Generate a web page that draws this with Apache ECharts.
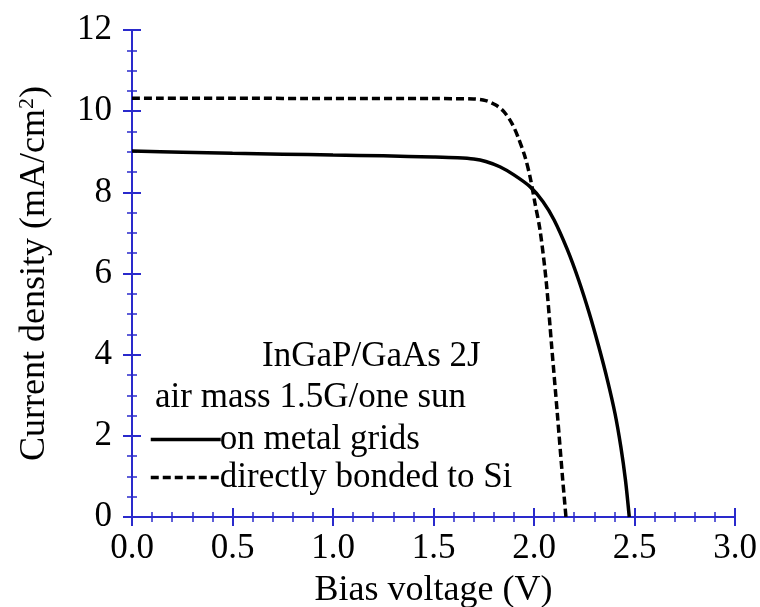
<!DOCTYPE html>
<html>
<head>
<meta charset="utf-8">
<script src="https://cdn.jsdelivr.net/npm/echarts@6/dist/echarts.min.js"></script>
<style>
  html, body { margin: 0; padding: 0; background: #fff; }
  #main { width: 760px; height: 607px; }
</style>
</head>
<body>
<div id="main"></div>
<script>
// 数据：偏压 (V) 与电流密度 (mA/cm2)
var metalV = [0, 0.25, 0.5, 0.75, 1.0, 1.25, 1.5, 1.62, 1.70, 1.76, 1.83, 1.90, 1.98, 2.045, 2.10, 2.165, 2.222, 2.275, 2.322, 2.365, 2.403, 2.432, 2.455, 2.474];
var metalJ = [9.02, 8.99, 8.96, 8.94, 8.92, 8.90, 8.87, 8.85, 8.82, 8.76, 8.63, 8.43, 8.14, 7.77, 7.32, 6.60, 5.84, 5.02, 4.20, 3.38, 2.55, 1.73, 0.91, 0];
var siV = [0, 0.5, 1.0, 1.5, 1.70, 1.76, 1.81, 1.85, 1.89, 1.92, 1.955, 1.98, 2.005, 2.03, 2.06, 2.088, 2.116, 2.143, 2.159];
var siJ = [10.32, 10.32, 10.31, 10.31, 10.30, 10.26, 10.15, 9.99, 9.70, 9.37, 8.88, 8.39, 7.73, 7.07, 5.84, 4.20, 2.55, 0.91, 0];
var seriesNames = ['on metal grids', 'directly bonded to Si'];
var noteLines = ['InGaP/GaAs 2J', 'air mass 1.5G/one sun'];

function pairs(xs, ys) {
    return xs.map(function (x, i) { return [x, ys[i]]; });
}

var font = 'Liberation Serif';
var blue = '#2a2acc';

var myChart = echarts.init(document.getElementById('main'));

var xBase = {
    type: 'value', min: 0, max: 3, interval: 0.5,
    axisLine: { show: true, lineStyle: { color: blue, width: 2 } },
    axisTick: { show: true, inside: true, length: 9, lineStyle: { color: blue, width: 2 } },
    minorTick: { show: true, splitNumber: 5, length: 5, lineStyle: { color: blue, width: 1.5 } },
    splitLine: { show: false }
};
var yBase = {
    type: 'value', min: 0, max: 12, interval: 2,
    axisLine: { show: true, lineStyle: { color: blue, width: 2 } },
    axisTick: { show: true, inside: true, length: 9, lineStyle: { color: blue, width: 2 } },
    minorTick: { show: true, splitNumber: 4, length: 5, lineStyle: { color: blue, width: 1.5 } },
    splitLine: { show: false }
};

option = {
    backgroundColor: '#fff',
    animation: false,
    grid: { left: 132, right: 25, top: 30, bottom: 90, containLabel: false, outerBoundsMode: 'none' },
    xAxis: [
        Object.assign({}, xBase, {
            position: 'bottom',
            axisLabel: { color: '#000', fontFamily: font, fontSize: 35, margin: 14,
                formatter: function (v) { return v.toFixed(1); } },
            name: 'Bias voltage (V)', nameLocation: 'middle', nameGap: 56,
            nameTextStyle: { color: '#000', fontFamily: font, fontSize: 36 }
        }),
        Object.assign({}, xBase, { position: 'top', axisLabel: { show: false } })
    ],
    yAxis: [
        Object.assign({}, yBase, {
            position: 'left',
            axisLabel: { color: '#000', fontFamily: font, fontSize: 35, margin: 20 },
            name: '{a|Current density (mA/cm}{s|2}{a|)}', nameLocation: 'middle', nameGap: 78,
            nameTextStyle: {
                color: '#000', fontFamily: font, fontSize: 36,
                rich: {
                    a: { fontFamily: font, fontSize: 36, color: '#000' },
                    s: { fontFamily: font, fontSize: 22, color: '#000', verticalAlign: 'top', padding: [0, 0, 16, 0] }
                }
            }
        }),
        Object.assign({}, yBase, { position: 'right', axisLabel: { show: false } })
    ],
    legend: {
        orient: 'vertical', left: 144, top: 417,
        itemWidth: 70, itemHeight: 22, itemGap: 3,
        itemStyle: { opacity: 0, color: 'rgba(0,0,0,0)', borderWidth: 0 },
        lineStyle: { width: 3.5 },
        textStyle: { color: '#000', fontFamily: font, fontSize: 35, padding: [0, 0, 0, -6] },
        data: seriesNames
    },
    graphic: [
        { type: 'text', left: 262, top: 339,
          style: { text: noteLines[0], fontFamily: font, fontSize: 35, fill: '#000' } },
        { type: 'text', left: 155, top: 380,
          style: { text: noteLines[1], fontFamily: font, fontSize: 35, fill: '#000' } }
    ],
    series: [
        {
            name: seriesNames[0], type: 'line', data: pairs(metalV, metalJ),
            symbol: 'none', smooth: 0.3,
            lineStyle: { color: '#000', width: 3.5 }, itemStyle: { color: '#000' }
        },
        {
            name: seriesNames[1], type: 'line', data: pairs(siV, siJ),
            symbol: 'none', smooth: 0.3,
            lineStyle: { color: '#000', width: 3.5, type: [8, 4] }, itemStyle: { color: '#000' }
        }
    ]
};
myChart.setOption(option);
</script>
</body>
</html>
